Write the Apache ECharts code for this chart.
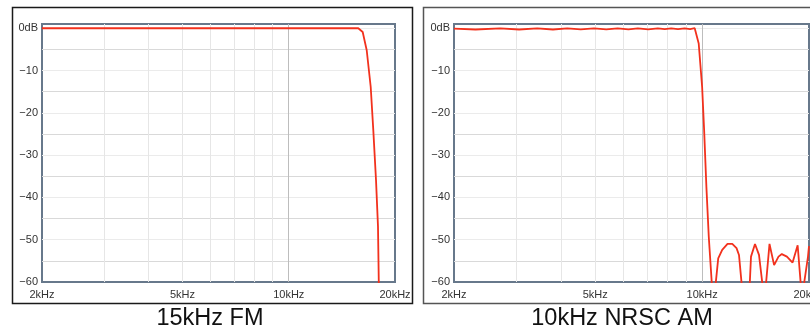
<!DOCTYPE html>
<html>
<head>
<meta charset="utf-8">
<script src="https://cdn.jsdelivr.net/npm/echarts@6/dist/echarts.min.js"></script>
<style>
  html, body { margin: 0; padding: 0; background: #fff; }
  #chart { width: 810px; height: 327px; }
</style>
</head>
<body>
<div id="chart"></div>
<script>
// frequency (kHz) -> response (dB)
const fmFreq = [2, 3, 4, 5, 6, 7, 8, 9, 10, 11, 12, 13, 14, 15, 15.74, 16.2, 16.63, 17.07, 17.36, 17.67, 17.9, 18.1];
const fmGain = [0, 0, 0, 0, 0, 0, 0, 0, 0, 0, 0, 0, 0, 0, 0, -0.9, -5.2, -13.9, -24.1, -35.9, -46.9, -75];

const amFreq = [2, 2.3, 2.7, 3.05, 3.43, 3.8, 4.17, 4.55, 4.96, 5.37, 5.78, 6.2, 6.59, 7.05, 7.5, 7.85, 8.18, 8.55, 8.93, 9.25, 9.53,
  9.78, 10.0, 10.13, 10.28, 10.44, 10.66, 10.9, 11.1, 11.39, 11.79, 12.16, 12.5, 12.7, 12.94, 13.61, 13.73, 14.09, 14.46,
  14.81, 15.11, 15.48, 15.95, 16.41, 16.77, 17.33, 17.98, 18.58, 18.98, 19.32, 19.87, 20.0];
const amGain = [-0.1, -0.3, -0.05, -0.3, -0.05, -0.3, -0.05, -0.28, -0.05, -0.28, -0.05, -0.25, -0.05, -0.25, -0.05, -0.22, -0.05, -0.22, -0.05, -0.2, 0,
  -3.6, -13.9, -24.1, -37.5, -49.3, -61, -61, -54.4, -52.4, -51.0, -51.0, -52.0, -53.6, -61, -61, -54.0, -51.0, -53.6,
  -61, -61, -51.0, -56.0, -54.0, -53.4, -54.0, -55.4, -51.3, -61, -61, -54.0, -51.5];

const freqLabels = [2, 5, 10, 20];
const freqGrid = [3, 4, 5, 6, 7, 8, 9, 10];
const titles = ['15kHz FM', '10kHz NRSC AM'];

const lg = v => Math.log10(v);
const labelStyle = { color: '#333', fontSize: 11, fontFamily: 'Liberation Sans, Arial, sans-serif' };

function makeX(gridIndex) {
  return {
    type: 'value',
    gridIndex,
    min: lg(2),
    max: lg(20),
    axisLine: { show: false },
    axisTick: { show: false, customValues: freqGrid.map(lg) },
    axisLabel: Object.assign({
      customValues: freqLabels.map(lg),
      margin: 7,
      formatter: v => Math.round(Math.pow(10, v)) + 'kHz'
    }, labelStyle),
    splitLine: {
      show: true,
      lineStyle: { color: ['#e6e6e6', '#e6e6e6', '#e6e6e6', '#e6e6e6', '#e6e6e6', '#e6e6e6', '#e6e6e6', '#bdbdbd'], width: 1 }
    }
  };
}

function makeY(gridIndex) {
  return {
    type: 'value',
    gridIndex,
    min: -60,
    max: 1,
    interval: 5,
    axisLine: { show: false },
    axisTick: { show: false },
    axisLabel: Object.assign({
      margin: 4,
      formatter: v => {
        if (v === 0) return '0dB';
        if (v > 0 || v % 10 !== 0) return '';
        return '\u2212' + Math.abs(v);
      }
    }, labelStyle),
    splitLine: {
      show: true,
      showMinLine: false,
      showMaxLine: false,
      lineStyle: { color: ['#d9d9d9', '#ebebeb'], width: 1 }
    }
  };
}

function makeSeries(idx, freq, gain) {
  return {
    type: 'line',
    xAxisIndex: idx,
    yAxisIndex: idx,
    data: freq.map((f, i) => [lg(f), gain[i]]),
    showSymbol: false,
    silent: true,
    lineStyle: { color: '#f2311d', width: 1.8 },
    itemStyle: { color: '#f2311d' },
    z: 3
  };
}

const titleStyle = { fontSize: 23.5, fontWeight: 'normal', color: '#111', fontFamily: 'Liberation Sans, Arial, sans-serif' };

const chart = echarts.init(document.getElementById('chart'));
chart.setOption({
  animation: false,
  backgroundColor: '#fff',
  title: [
    { text: titles[0], left: 210, top: 307, textAlign: 'center', padding: 0, textStyle: titleStyle },
    { text: titles[1], left: 622, top: 307, textAlign: 'center', padding: 0, textStyle: titleStyle }
  ],
  grid: [
    { left: 42, top: 24, width: 353, height: 258, outerBoundsMode: 'none', containLabel: false,
      show: true, borderColor: '#67788b', borderWidth: 2, backgroundColor: 'transparent' },
    { left: 454, top: 24, width: 355, height: 258, outerBoundsMode: 'none', containLabel: false,
      show: true, borderColor: '#67788b', borderWidth: 2, backgroundColor: 'transparent' }
  ],
  xAxis: [makeX(0), makeX(1)],
  yAxis: [makeY(0), makeY(1)],
  series: [makeSeries(0, fmFreq, fmGain), makeSeries(1, amFreq, amGain)],
  graphic: [
    { type: 'rect', silent: true, shape: { x: 12.5, y: 7.5, width: 400, height: 296 },
      style: { fill: 'none', stroke: '#1a1a1a', lineWidth: 1.5 } },
    { type: 'rect', silent: true, shape: { x: 423.5, y: 7.5, width: 400, height: 296 },
      style: { fill: 'none', stroke: '#555', lineWidth: 1.5 } }
  ]
});
window.addEventListener('resize', () => chart.resize());
</script>
</body>
</html>
